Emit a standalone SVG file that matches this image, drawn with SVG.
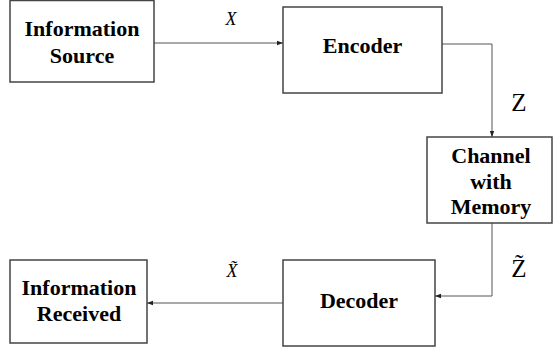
<svg xmlns="http://www.w3.org/2000/svg" width="553" height="351" viewBox="0 0 553 351">
<style>
.box{fill:#fff;stroke:#444;stroke-width:1.5}
.lbl{font-weight:bold;font-size:22px;text-anchor:middle;fill:#000}
.var{fill:#000}
.con{fill:none;stroke:#555;stroke-width:1}
</style>
<defs>
<marker id="ah" viewBox="0 0 6 6" refX="6" refY="3" markerWidth="6" markerHeight="6" orient="auto" markerUnits="userSpaceOnUse">
<path d="M0,0.8 L6,3 L0,5.2 Z" fill="#222"/>
</marker>
</defs>
<rect width="553" height="351" fill="#fff"/>
<g id="connectors" font-family="Liberation Serif, DejaVu Serif, serif">
<path class="con" d="M154,43 H283" marker-end="url(#ah)"/>
<path class="con" d="M442,44 H492 V137" marker-end="url(#ah)"/>
<path class="con" d="M492,223 V296 H435" marker-end="url(#ah)"/>
<path class="con" d="M283,303 H147" marker-end="url(#ah)"/>
<text class="var" x="231" y="25" font-size="18" font-style="italic" text-anchor="middle">X</text>
<text class="var" x="519" y="111" font-size="25" text-anchor="middle">Z</text>
<text class="var" x="519" y="277" font-size="25" text-anchor="middle">Z&#771;</text>
<text class="var" x="232" y="277" font-size="18" font-style="italic" text-anchor="middle">X&#771;</text>
</g>
<g id="source" font-family="Liberation Serif, DejaVu Serif, serif">
<rect class="box" x="10" y="0.5" width="144" height="81.5"/>
<text class="lbl" x="82" y="36">Information</text>
<text class="lbl" x="82" y="63">Source</text>
</g>
<g id="encoder" font-family="Liberation Serif, DejaVu Serif, serif">
<rect class="box" x="283" y="7" width="159" height="86"/>
<text class="lbl" x="362.5" y="53">Encoder</text>
</g>
<g id="channel" font-family="Liberation Serif, DejaVu Serif, serif">
<rect class="box" x="427" y="137" width="125" height="86"/>
<text class="lbl" x="491" y="163">Channel</text>
<text class="lbl" x="491" y="189">with</text>
<text class="lbl" x="491" y="214">Memory</text>
</g>
<g id="decoder" font-family="Liberation Serif, DejaVu Serif, serif">
<rect class="box" x="283" y="260" width="152" height="86"/>
<text class="lbl" x="359" y="308">Decoder</text>
</g>
<g id="received" font-family="Liberation Serif, DejaVu Serif, serif">
<rect class="box" x="10" y="260" width="137" height="83"/>
<text class="lbl" x="79" y="295">Information</text>
<text class="lbl" x="79" y="321">Received</text>
</g>
</svg>
